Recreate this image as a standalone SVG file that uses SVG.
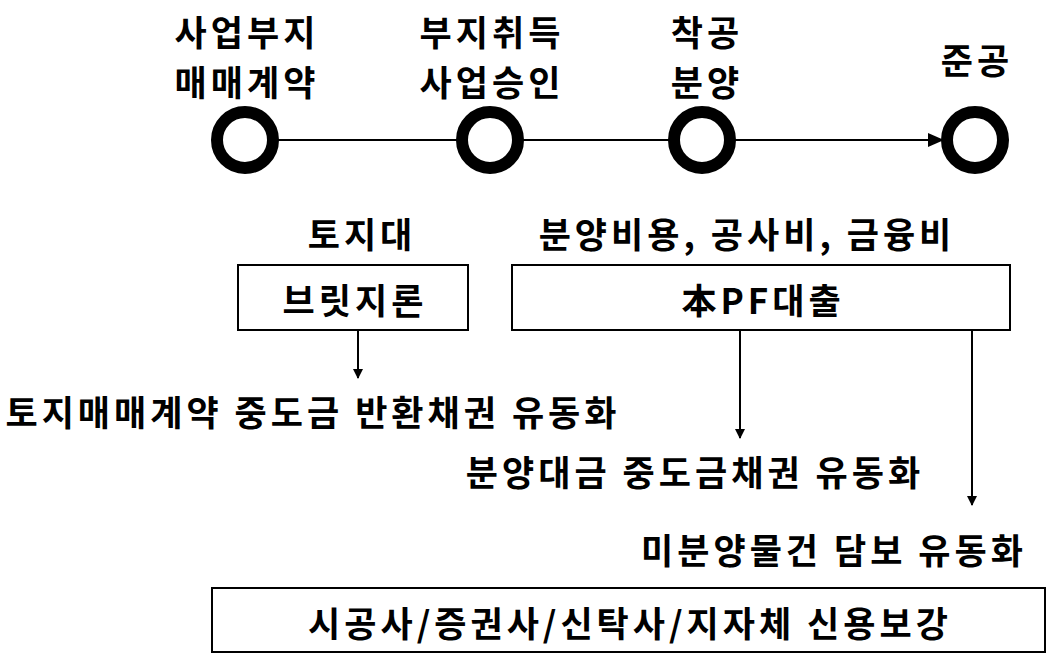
<svg xmlns="http://www.w3.org/2000/svg" width="1055" height="668" viewBox="0 0 1055 668">
<style>
text{font-family:"Noto Sans CJK KR","Liberation Sans",sans-serif;font-weight:bold;font-size:35px;letter-spacing:4px;fill:#000;text-anchor:middle;dominant-baseline:central}
.c{fill:#fff;stroke:#000;stroke-width:12}
.b{fill:#fff;stroke:#000;stroke-width:2}
.l{stroke:#000;stroke-width:2;fill:none}
</style>
<defs><marker id="a" markerWidth="10" markerHeight="10" refX="9" refY="5" orient="auto" markerUnits="userSpaceOnUse"><path d="M0,0L10,5L0,10z"/></marker>
<marker id="a2" markerWidth="16" markerHeight="14" refX="15" refY="7" orient="auto" markerUnits="userSpaceOnUse"><path d="M0,0L16,7L0,14z"/></marker></defs>
<g id="connectors">
<line class="l" x1="245" y1="140" x2="943" y2="140" marker-end="url(#a2)"/>
<line class="l" x1="358" y1="331" x2="358" y2="378" marker-end="url(#a)"/>
<line class="l" x1="740" y1="331" x2="740" y2="438" marker-end="url(#a)"/>
<line class="l" x1="972" y1="331" x2="972" y2="505" marker-end="url(#a)"/>
</g>
<g id="n1"><circle class="c" cx="245" cy="140" r="28"/><text x="247" y="30">사업부지</text><text x="247" y="80">매매계약</text></g>
<g id="n2"><circle class="c" cx="490" cy="140" r="28"/><text x="492" y="30">부지취득</text><text x="492" y="80">사업승인</text></g>
<g id="n3"><circle class="c" cx="702" cy="140" r="28"/><text x="707" y="30">착공</text><text x="707" y="80">분양</text></g>
<g id="n4"><circle class="c" cx="975" cy="140" r="28"/><text x="977" y="58">준공</text></g>
<g id="t1"><text x="362" y="232">토지대</text></g>
<g id="t2"><text x="747" y="232">분양비용, 공사비, 금융비</text></g>
<g id="bridge"><rect class="b" x="238" y="265" width="230" height="65"/><text x="355" y="298">브릿지론</text></g>
<g id="pf"><rect class="b" x="512" y="265" width="498" height="65"/><text x="763" y="298">本PF대출</text></g>
<g id="r1"><text x="313" y="410">토지매매계약 중도금 반환채권 유동화</text></g>
<g id="r2"><text x="695" y="470">분양대금 중도금채권 유동화</text></g>
<g id="r3"><text x="834" y="548">미분양물건 담보 유동화</text></g>
<g id="credit"><rect class="b" x="212" y="588" width="833" height="64"/><text x="630" y="621">시공사/증권사/신탁사/지자체 신용보강</text></g>
</svg>
